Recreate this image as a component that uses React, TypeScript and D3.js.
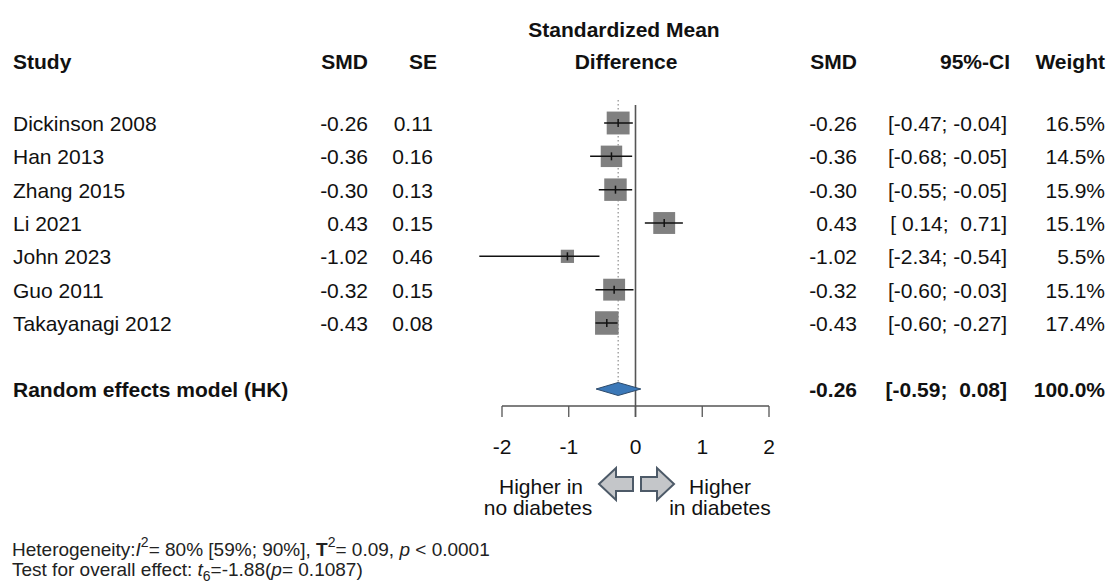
import React from 'react';
import * as d3 from 'd3';

// study level data
const studies = ['Dickinson 2008', 'Han 2013', 'Zhang 2015', 'Li 2021', 'John 2023', 'Guo 2011', 'Takayanagi 2012'];
const smd = [-0.26, -0.36, -0.3, 0.43, -1.02, -0.32, -0.43];
const se = [0.11, 0.16, 0.13, 0.15, 0.46, 0.15, 0.08];
const ciLow = [-0.47, -0.68, -0.55, 0.14, -2.34, -0.6, -0.6];
const ciHigh = [-0.04, -0.05, -0.05, 0.71, -0.54, -0.03, -0.27];
const weights = [16.5, 14.5, 15.9, 15.1, 5.5, 15.1, 17.4];

// pooled (random effects, HK)
const pooledLabel = 'Random effects model (HK)';
const pooled = [-0.26, -0.59, 0.08];
const xTicks = [-2, -1, 0, 1, 2];

const W = 1116;
const H = 585;
const FONT = '"Liberation Sans", Arial, Helvetica, sans-serif';

const f2 = (v: number) => v.toFixed(2);
const pad = (v: number) => (v < 0 ? f2(v) : ' ' + f2(v));

export default function App() {
  const x = d3.scaleLinear().domain([-2, 2]).range([502, 769]);
  const y = d3.scalePoint<string>().domain(studies).range([123, 323]);
  const box = d3.scaleSqrt().domain([0, d3.max(weights) as number]).range([0, 23.5]);

  const ySum = 389;
  const yAxis = 406;
  const fs = 21;

  const diamond = d3.line()([
    [x(pooled[1]), ySum],
    [x(pooled[0]), ySum - 6.5],
    [x(pooled[2]), ySum],
    [x(pooled[0]), ySum + 6.5],
  ]) + 'Z';

  // block arrows under the axis
  const arrowL = 'M599,484 L616,468 L616,477 L633,477 L633,491 L616,491 L616,500 Z';
  const arrowR = 'M674,484 L657,468 L657,477 L641,477 L641,491 L657,491 L657,500 Z';

  return (
    <svg width={W} height={H} style={{ position: 'absolute', left: 0, top: 0, background: '#fff' }} fontFamily={FONT}>
      {/* headers */}
      <g fontWeight="bold" fontSize={fs} fill="#111">
        <text x={624} y={37} textAnchor="middle">Standardized Mean</text>
        <text x={13} y={69}>Study</text>
        <text x={368} y={69} textAnchor="end">SMD</text>
        <text x={437} y={69} textAnchor="end">SE</text>
        <text x={626} y={69} textAnchor="middle">Difference</text>
        <text x={857} y={69} textAnchor="end">SMD</text>
        <text x={1010} y={69} textAnchor="end">95%-CI</text>
        <text x={1105} y={69} textAnchor="end">Weight</text>
      </g>

      {/* reference lines */}
      <line x1={x(pooled[0])} x2={x(pooled[0])} y1={100} y2={ySum - 6} stroke="#777" strokeWidth={1} strokeDasharray="1.5,2.5" />
      <line x1={x(0)} x2={x(0)} y1={105} y2={yAxis + 11} stroke="#555" strokeWidth={1.6} />

      {/* study rows */}
      {studies.map((s, i) => {
        const yy = y(s) as number;
        const b = box(weights[i]);
        return (
          <g key={s}>
            <text x={13} y={yy + 8} fontSize={fs} fill="#111">{s}</text>
            <text x={368} y={yy + 8} fontSize={fs} fill="#111" textAnchor="end">{f2(smd[i])}</text>
            <text x={433} y={yy + 8} fontSize={fs} fill="#111" textAnchor="end">{f2(se[i])}</text>
            <rect x={x(smd[i]) - b / 2} y={yy - b / 2} width={b} height={b} fill="#808080" />
            <line x1={x(ciLow[i])} x2={x(ciHigh[i])} y1={yy} y2={yy} stroke="#111" strokeWidth={1.5} />
            <line x1={x(smd[i])} x2={x(smd[i])} y1={yy - 4} y2={yy + 4} stroke="#111" strokeWidth={1.5} />
            <text x={857} y={yy + 8} fontSize={fs} fill="#111" textAnchor="end">{f2(smd[i])}</text>
            <text x={1007} y={yy + 8} fontSize={fs} fill="#111" textAnchor="end" style={{ whiteSpace: 'pre' }}>
              {'[' + pad(ciLow[i]) + '; ' + pad(ciHigh[i]) + ']'}
            </text>
            <text x={1105} y={yy + 8} fontSize={fs} fill="#111" textAnchor="end">{weights[i].toFixed(1) + '%'}</text>
          </g>
        );
      })}

      {/* pooled row */}
      <g fontWeight="bold" fontSize={fs} fill="#111">
        <text x={13} y={ySum + 8}>{pooledLabel}</text>
        <text x={857} y={ySum + 8} textAnchor="end">{f2(pooled[0])}</text>
        <text x={1007} y={ySum + 8} textAnchor="end" style={{ whiteSpace: 'pre' }}>
          {'[' + pad(pooled[1]) + '; ' + pad(pooled[2]) + ']'}
        </text>
        <text x={1105} y={ySum + 8} textAnchor="end">100.0%</text>
      </g>
      <path d={diamond} fill="#3b78b8" stroke="#2c4a6b" strokeWidth={1} />

      {/* x axis */}
      <line x1={x(-2)} x2={x(2)} y1={yAxis} y2={yAxis} stroke="#555" strokeWidth={1.3} />
      {xTicks.map(t => (
        <g key={t}>
          <line x1={x(t)} x2={x(t)} y1={yAxis} y2={yAxis + 11} stroke="#555" strokeWidth={1.3} />
          <text x={x(t)} y={yAxis + 48} fontSize={fs} fill="#111" textAnchor="middle">{t}</text>
        </g>
      ))}

      {/* direction labels */}
      <path d={arrowL} fill="#c4c6c9" stroke="#4d5a68" strokeWidth={2} />
      <path d={arrowR} fill="#c4c6c9" stroke="#4d5a68" strokeWidth={2} />
      <g fontSize={fs} fill="#111" textAnchor="middle">
        <text x={541} y={494}>Higher in</text>
        <text x={538} y={515}>no diabetes</text>
        <text x={720} y={494}>Higher</text>
        <text x={720} y={515}>in diabetes</text>
      </g>

      {/* heterogeneity / overall test */}
      <g fontSize={19} fill="#222">
        <text x={12} y={556} style={{ whiteSpace: 'pre' }}>
          <tspan>Heterogeneity:</tspan>
          <tspan fontStyle="italic">I</tspan>
          <tspan fontSize={14} dy={-9}>2</tspan>
          <tspan dy={9}>= 80% [59%; 90%], </tspan>
          <tspan fontWeight="bold">T</tspan>
          <tspan fontSize={14} dy={-9}>2</tspan>
          <tspan dy={9}>= 0.09, </tspan>
          <tspan fontStyle="italic">p</tspan>
          <tspan> &lt; 0.0001</tspan>
        </text>
        <text x={12} y={576} style={{ whiteSpace: 'pre' }}>
          <tspan>Test for overall effect: </tspan>
          <tspan fontStyle="italic">t</tspan>
          <tspan fontSize={14} dy={5}>6</tspan>
          <tspan dy={-5}>=-1.88(</tspan>
          <tspan fontStyle="italic">p</tspan>
          <tspan>= 0.1087)</tspan>
        </text>
      </g>
    </svg>
  );
}
